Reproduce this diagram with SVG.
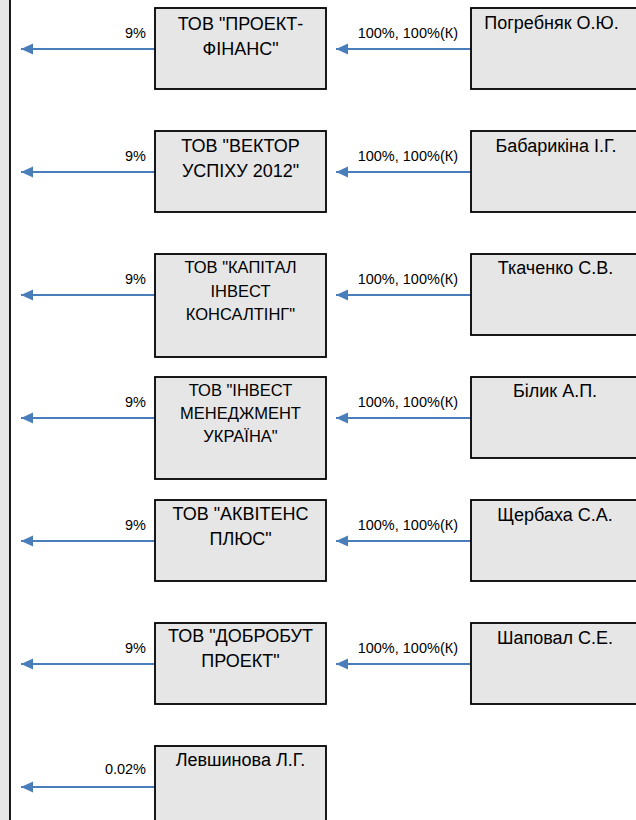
<svg xmlns="http://www.w3.org/2000/svg" width="636" height="820" viewBox="0 0 636 820">
<style>
.box{fill:#e6e6e6;stroke:#000;stroke-width:1.8}
.t{font-family:"Liberation Sans",Arial,sans-serif;font-size:18px;fill:#000;text-anchor:middle}
.t3{font-size:16.5px}
.lbl{font-family:"Liberation Sans",Arial,sans-serif;font-size:14.5px;fill:#000;text-anchor:end}
.ar{stroke:#4a7ebb;stroke-width:2;fill:none;marker-end:url(#ah)}
</style>
<defs>
<marker id="ah" markerUnits="userSpaceOnUse" markerWidth="14" markerHeight="12" refX="12" refY="5.5" orient="auto">
<path d="M0,0 L12,5.5 L0,11 Z" fill="#4a7ebb"/>
</marker>
</defs>
<rect id="owner-bar" x="-10" y="-10" width="20" height="840" class="box"/>
<g id="connectors">
<line class="ar" x1="155" y1="49" x2="21" y2="49"/>
<line class="ar" x1="471" y1="49" x2="336" y2="49"/>
<line class="ar" x1="155" y1="172" x2="21" y2="172"/>
<line class="ar" x1="471" y1="172" x2="336" y2="172"/>
<line class="ar" x1="155" y1="295" x2="21" y2="295"/>
<line class="ar" x1="471" y1="295" x2="336" y2="295"/>
<line class="ar" x1="155" y1="418" x2="21" y2="418"/>
<line class="ar" x1="471" y1="418" x2="336" y2="418"/>
<line class="ar" x1="155" y1="541" x2="21" y2="541"/>
<line class="ar" x1="471" y1="541" x2="336" y2="541"/>
<line class="ar" x1="155" y1="664" x2="21" y2="664"/>
<line class="ar" x1="471" y1="664" x2="336" y2="664"/>
<line class="ar" x1="155" y1="787" x2="21" y2="787"/>
<text class="lbl" x="146" y="38">9%</text>
<text class="lbl" x="458" y="38">100%, 100%(К)</text>
<text class="lbl" x="146" y="161">9%</text>
<text class="lbl" x="458" y="161">100%, 100%(К)</text>
<text class="lbl" x="146" y="284">9%</text>
<text class="lbl" x="458" y="284">100%, 100%(К)</text>
<text class="lbl" x="146" y="407">9%</text>
<text class="lbl" x="458" y="407">100%, 100%(К)</text>
<text class="lbl" x="146" y="530">9%</text>
<text class="lbl" x="458" y="530">100%, 100%(К)</text>
<text class="lbl" x="146" y="653">9%</text>
<text class="lbl" x="458" y="653">100%, 100%(К)</text>
<text class="lbl" x="146" y="774">0.02%</text>
</g>
<g id="n1"><rect class="box" x="155" y="8" width="171" height="81"/><text class="t" x="240.5" y="30">ТОВ "ПРОЕКТ-</text><text class="t" x="240.5" y="55">ФІНАНС"</text></g>
<g id="p1"><rect class="box" x="471" y="8" width="180" height="81"/><text class="t" x="551.5" y="29">Погребняк О.Ю.</text></g>
<g id="n2"><rect class="box" x="155" y="131" width="171" height="81"/><text class="t" x="240.5" y="152">ТОВ "ВЕКТОР</text><text class="t" x="240.5" y="177">УСПІХУ 2012"</text></g>
<g id="p2"><rect class="box" x="471" y="131" width="180" height="81"/><text class="t" x="556" y="152">Бабарикіна І.Г.</text></g>
<g id="n3"><rect class="box" x="155" y="254" width="171" height="103"/><text class="t t3" x="240.5" y="273">ТОВ "КАПІТАЛ</text><text class="t t3" x="240.5" y="297">ІНВЕСТ</text><text class="t t3" x="240.5" y="320">КОНСАЛТІНГ"</text></g>
<g id="p3"><rect class="box" x="471" y="254" width="180" height="81"/><text class="t" x="555.5" y="274">Ткаченко С.В.</text></g>
<g id="n4"><rect class="box" x="155" y="377" width="171" height="102"/><text class="t t3" x="240.5" y="396">ТОВ "ІНВЕСТ</text><text class="t t3" x="240.5" y="419">МЕНЕДЖМЕНТ</text><text class="t t3" x="240.5" y="442">УКРАЇНА"</text></g>
<g id="p4"><rect class="box" x="471" y="377" width="180" height="81"/><text class="t" x="555" y="397">Білик А.П.</text></g>
<g id="n5"><rect class="box" x="155" y="500" width="171" height="81"/><text class="t" x="240.5" y="520">ТОВ "АКВІТЕНС</text><text class="t" x="240.5" y="545">ПЛЮС"</text></g>
<g id="p5"><rect class="box" x="471" y="500" width="180" height="81"/><text class="t" x="555" y="521">Щербаха С.А.</text></g>
<g id="n6"><rect class="box" x="155" y="623" width="171" height="81"/><text class="t" x="240.5" y="642">ТОВ "ДОБРОБУТ</text><text class="t" x="240.5" y="667">ПРОЕКТ"</text></g>
<g id="p6"><rect class="box" x="471" y="623" width="180" height="81"/><text class="t" x="555" y="644">Шаповал С.Е.</text></g>
<g id="n7"><rect class="box" x="155" y="746" width="171" height="90"/><text class="t" x="240.5" y="766">Левшинова Л.Г.</text></g>
</svg>
